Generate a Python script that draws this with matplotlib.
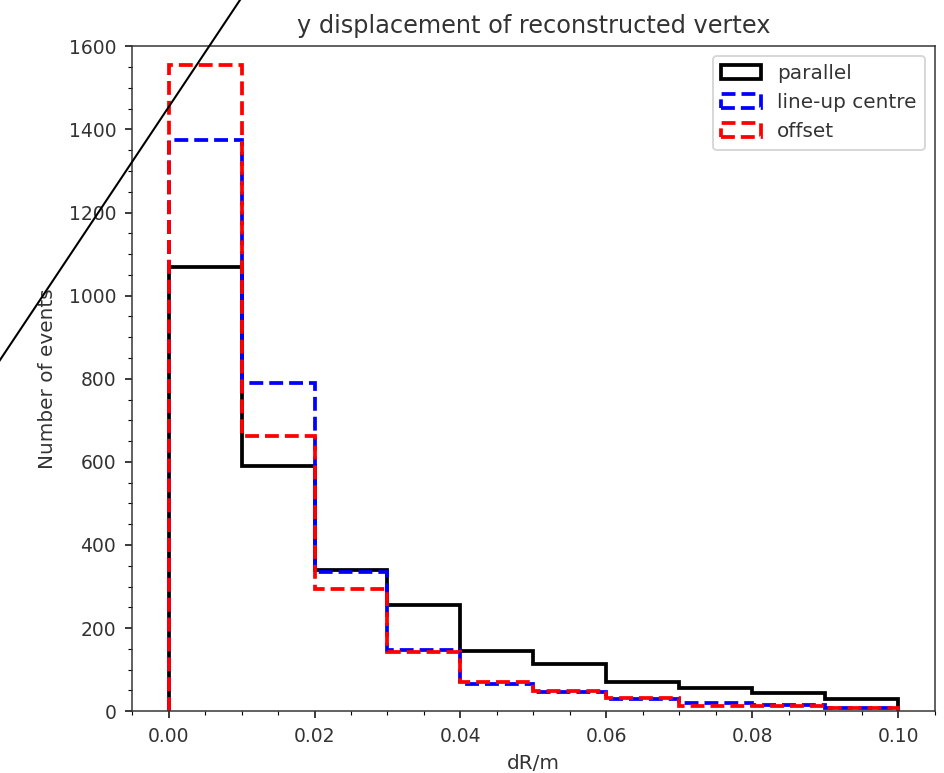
import numpy as np
import matplotlib
matplotlib.use("Agg")
import matplotlib.pyplot as plt
from matplotlib.lines import Line2D

# bin edges in dR/m
bins = [0.00, 0.01, 0.02, 0.03, 0.04, 0.05, 0.06, 0.07, 0.08, 0.09, 0.10]

# counts per bin
parallel = [1070, 590, 340, 255, 145, 113, 70, 55, 43, 29]
lineup_centre = [1375, 790, 335, 148, 65, 45, 30, 19, 15, 7]
offset = [1555, 662, 295, 143, 70, 48, 31, 12, 12, 7]

plt.rcParams['font.size'] = 10.7
plt.rcParams['xtick.labelsize'] = 10
plt.rcParams['ytick.labelsize'] = 10
plt.rcParams['text.color'] = '#333333'
plt.rcParams['axes.labelcolor'] = '#333333'
plt.rcParams['xtick.labelcolor'] = '#333333'
plt.rcParams['ytick.labelcolor'] = '#333333'

fig = plt.figure(figsize=(944 / 135, 773 / 135), dpi=135)
ax = fig.add_axes([0.14, 0.08, 0.85, 0.86])

centres = np.array(bins[:-1]) + 0.005
ax.hist(centres, bins=bins, weights=parallel, histtype='step', color='k',
        lw=2, label='parallel')
ax.hist(centres, bins=bins, weights=lineup_centre, histtype='step', color='b',
        lw=2, ls='--', label='line-up centre')
ax.hist(centres, bins=bins, weights=offset, histtype='step', color='r',
        lw=2, ls='--', label='offset')

ax.set_ylim(0, 1600)
ax.minorticks_on()
ax.tick_params(which='major', pad=5)
for s in ax.spines.values():
    s.set_color('#333333')
ax.set_title('y displacement of reconstructed vertex', pad=7)
ax.set_xlabel('dR/m')
ax.set_ylabel('Number of events', labelpad=6)
ax.legend(loc='upper right')

# stray diagonal line across the top-left of the figure
fig.add_artist(Line2D([240 / 944, -10 / 944], [1, 1 - 375 / 773],
                      transform=fig.transFigure, color='k', lw=1.1))

fig.savefig('out.png', dpi=135)
